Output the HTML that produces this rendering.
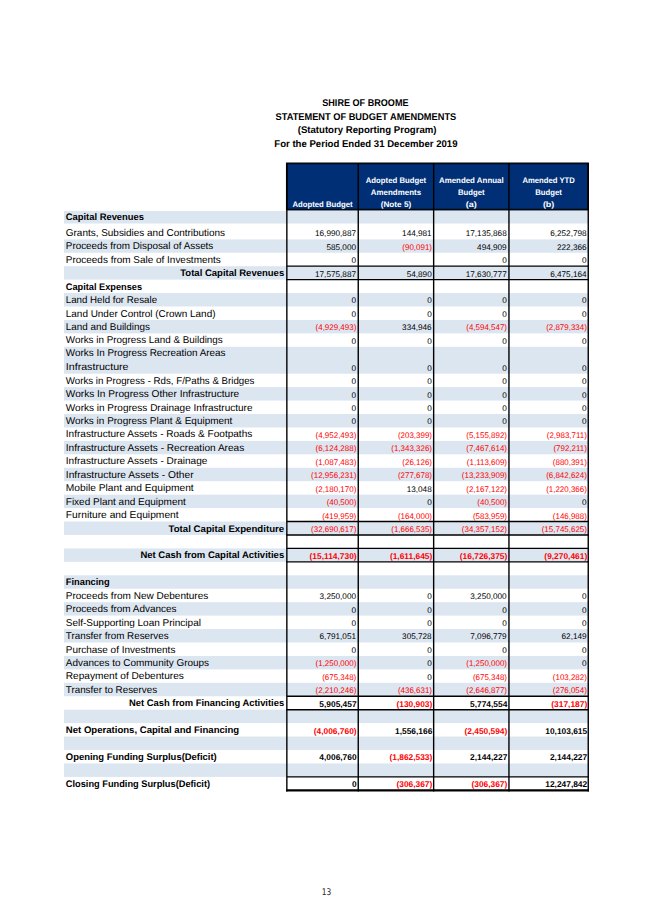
<!DOCTYPE html>
<html><head><meta charset="utf-8"><title>Shire of Broome - Statement of Budget Amendments</title>
<style>
html,body{margin:0;padding:0;background:#fff;}
body{width:653px;height:923px;overflow:hidden;}
svg{display:block;}
svg text{font-family:"Liberation Sans", Arial, sans-serif;text-rendering:geometricPrecision;}
svg text[font-family]{font-family:"DejaVu Sans", sans-serif;}
</style></head>
<body>
<svg width="653" height="923" viewBox="0 0 653 923">
<rect width="653" height="923" fill="#fff"/>
<rect x="64.0" y="210.90" width="524.25" height="12.60" fill="#dce6f1"/>
<rect x="64.0" y="239.40" width="524.25" height="13.33" fill="#dce6f1"/>
<rect x="64.0" y="266.17" width="524.25" height="13.44" fill="#dce6f1"/>
<rect x="64.0" y="293.05" width="524.25" height="13.44" fill="#dce6f1"/>
<rect x="64.0" y="319.93" width="524.25" height="13.44" fill="#dce6f1"/>
<rect x="64.0" y="346.81" width="524.25" height="26.88" fill="#dce6f1"/>
<rect x="64.0" y="387.13" width="524.25" height="13.44" fill="#dce6f1"/>
<rect x="64.0" y="414.01" width="524.25" height="13.44" fill="#dce6f1"/>
<rect x="64.0" y="440.89" width="524.25" height="13.44" fill="#dce6f1"/>
<rect x="64.0" y="467.77" width="524.25" height="13.44" fill="#dce6f1"/>
<rect x="64.0" y="494.65" width="524.25" height="13.44" fill="#dce6f1"/>
<rect x="64.0" y="521.53" width="524.25" height="13.44" fill="#dce6f1"/>
<rect x="64.0" y="548.41" width="524.25" height="13.44" fill="#dce6f1"/>
<rect x="64.0" y="575.29" width="524.25" height="13.44" fill="#dce6f1"/>
<rect x="64.0" y="602.17" width="524.25" height="13.44" fill="#dce6f1"/>
<rect x="64.0" y="629.05" width="524.25" height="13.44" fill="#dce6f1"/>
<rect x="64.0" y="655.93" width="524.25" height="13.44" fill="#dce6f1"/>
<rect x="64.0" y="682.81" width="524.25" height="13.44" fill="#dce6f1"/>
<rect x="64.0" y="709.69" width="524.25" height="13.44" fill="#dce6f1"/>
<rect x="64.0" y="736.57" width="524.25" height="13.44" fill="#dce6f1"/>
<rect x="64.0" y="763.45" width="524.25" height="13.44" fill="#dce6f1"/>
<rect x="286.85" y="163.4" width="301.25" height="46.20" fill="#012f76" stroke="#000814" stroke-width="1.8"/>
<line x1="286.85" y1="163.4" x2="286.85" y2="791.40" stroke="#000" stroke-width="1.4"/>
<line x1="358.25" y1="163.4" x2="358.25" y2="791.40" stroke="#000" stroke-width="1.4"/>
<line x1="433.65" y1="163.4" x2="433.65" y2="791.40" stroke="#000" stroke-width="1.4"/>
<line x1="508.95" y1="163.4" x2="508.95" y2="791.40" stroke="#000" stroke-width="1.4"/>
<line x1="588.25" y1="163.4" x2="588.25" y2="791.40" stroke="#000" stroke-width="1.4"/>
<line x1="286.85" y1="266.17" x2="588.25" y2="266.17" stroke="#000" stroke-width="1.4"/>
<line x1="286.15000000000003" y1="279.61" x2="588.95" y2="279.61" stroke="#000" stroke-width="1.4"/>
<line x1="286.85" y1="521.53" x2="588.25" y2="521.53" stroke="#000" stroke-width="1.4"/>
<line x1="286.15000000000003" y1="534.97" x2="588.95" y2="534.97" stroke="#000" stroke-width="1.4"/>
<line x1="286.85" y1="548.41" x2="588.25" y2="548.41" stroke="#000" stroke-width="1.4"/>
<line x1="286.15000000000003" y1="561.85" x2="588.95" y2="561.85" stroke="#000" stroke-width="1.4"/>
<line x1="286.85" y1="696.25" x2="588.25" y2="696.25" stroke="#000" stroke-width="1.4"/>
<line x1="286.15000000000003" y1="709.69" x2="588.95" y2="709.69" stroke="#000" stroke-width="1.4"/>
<line x1="286.85" y1="776.89" x2="588.25" y2="776.89" stroke="#000" stroke-width="1.4"/>
<line x1="286.15000000000003" y1="790.35" x2="588.95" y2="790.35" stroke="#000" stroke-width="2.3"/>
<text x="322.55" y="206.50" font-size="8.1" font-weight="bold" text-anchor="middle" textLength="60.199999999999996" lengthAdjust="spacingAndGlyphs" fill="#fff">Adopted Budget</text>
<text x="395.95" y="183.10" font-size="8.1" font-weight="bold" text-anchor="middle" textLength="60.4" lengthAdjust="spacingAndGlyphs" fill="#fff">Adopted Budget</text>
<text x="395.95" y="194.80" font-size="8.1" font-weight="bold" text-anchor="middle" textLength="50.199999999999996" lengthAdjust="spacingAndGlyphs" fill="#fff">Amendments</text>
<text x="395.95" y="206.50" font-size="8.1" font-weight="bold" text-anchor="middle" textLength="30.4" lengthAdjust="spacingAndGlyphs" fill="#fff">(Note 5)</text>
<text x="471.30" y="183.10" font-size="8.1" font-weight="bold" text-anchor="middle" textLength="64.7" lengthAdjust="spacingAndGlyphs" fill="#fff">Amended Annual</text>
<text x="471.30" y="194.80" font-size="8.1" font-weight="bold" text-anchor="middle" textLength="26.599999999999998" lengthAdjust="spacingAndGlyphs" fill="#fff">Budget</text>
<text x="471.30" y="206.50" font-size="8.1" font-weight="bold" text-anchor="middle" textLength="11.1" lengthAdjust="spacingAndGlyphs" fill="#fff">(a)</text>
<text x="548.60" y="183.10" font-size="8.1" font-weight="bold" text-anchor="middle" textLength="52.4" lengthAdjust="spacingAndGlyphs" fill="#fff">Amended YTD</text>
<text x="548.60" y="194.80" font-size="8.1" font-weight="bold" text-anchor="middle" textLength="26.599999999999998" lengthAdjust="spacingAndGlyphs" fill="#fff">Budget</text>
<text x="548.60" y="206.50" font-size="8.1" font-weight="bold" text-anchor="middle" textLength="11.4" lengthAdjust="spacingAndGlyphs" fill="#fff">(b)</text>
<text x="65.80" y="220.10" font-size="9.5" font-weight="bold" textLength="78.18" lengthAdjust="spacingAndGlyphs" fill="#000">Capital Revenues</text>
<text x="65.80" y="236.00" font-size="9.95" textLength="159.29" lengthAdjust="spacingAndGlyphs" fill="#000">Grants, Subsidies and Contributions</text>
<text x="356.00" y="236.40" font-size="8.2" text-anchor="end" fill="#000">16,990,887</text>
<text x="431.70" y="236.40" font-size="8.2" text-anchor="end" fill="#000">144,981</text>
<text x="506.70" y="236.40" font-size="8.2" text-anchor="end" fill="#000">17,135,868</text>
<text x="586.60" y="236.40" font-size="8.2" text-anchor="end" fill="#000">6,252,798</text>
<text x="65.80" y="249.33" font-size="9.95" textLength="147.5" lengthAdjust="spacingAndGlyphs" fill="#000">Proceeds from Disposal of Assets</text>
<text x="356.00" y="249.73" font-size="8.2" text-anchor="end" fill="#000">585,000</text>
<text x="432.00" y="249.73" font-size="8.2" text-anchor="end" textLength="29.67" lengthAdjust="spacingAndGlyphs" fill="#ff0000">(90,091)</text>
<text x="506.70" y="249.73" font-size="8.2" text-anchor="end" fill="#000">494,909</text>
<text x="586.60" y="249.73" font-size="8.2" text-anchor="end" fill="#000">222,366</text>
<text x="65.80" y="262.77" font-size="9.95" textLength="154.96" lengthAdjust="spacingAndGlyphs" fill="#000">Proceeds from Sale of Investments</text>
<text x="356.00" y="263.17" font-size="8.2" text-anchor="end" fill="#000">0</text>
<text x="506.70" y="263.17" font-size="8.2" text-anchor="end" fill="#000">0</text>
<text x="586.60" y="263.17" font-size="8.2" text-anchor="end" fill="#000">0</text>
<text x="284.20" y="276.21" font-size="9.5" font-weight="bold" text-anchor="end" textLength="103.92" lengthAdjust="spacingAndGlyphs" fill="#000">Total Capital Revenues</text>
<text x="356.00" y="276.61" font-size="8.2" text-anchor="end" fill="#000">17,575,887</text>
<text x="431.70" y="276.61" font-size="8.2" text-anchor="end" fill="#000">54,890</text>
<text x="506.70" y="276.61" font-size="8.2" text-anchor="end" fill="#000">17,630,777</text>
<text x="586.60" y="276.61" font-size="8.2" text-anchor="end" fill="#000">6,475,164</text>
<text x="65.80" y="289.65" font-size="9.5" font-weight="bold" textLength="76.32" lengthAdjust="spacingAndGlyphs" fill="#000">Capital Expenses</text>
<text x="65.80" y="303.09" font-size="9.95" textLength="91.23" lengthAdjust="spacingAndGlyphs" fill="#000">Land Held for Resale</text>
<text x="356.00" y="303.49" font-size="8.2" text-anchor="end" fill="#000">0</text>
<text x="431.70" y="303.49" font-size="8.2" text-anchor="end" fill="#000">0</text>
<text x="506.70" y="303.49" font-size="8.2" text-anchor="end" fill="#000">0</text>
<text x="586.60" y="303.49" font-size="8.2" text-anchor="end" fill="#000">0</text>
<text x="65.80" y="316.53" font-size="9.95" textLength="149.69" lengthAdjust="spacingAndGlyphs" fill="#000">Land Under Control (Crown Land)</text>
<text x="356.00" y="316.93" font-size="8.2" text-anchor="end" fill="#000">0</text>
<text x="431.70" y="316.93" font-size="8.2" text-anchor="end" fill="#000">0</text>
<text x="506.70" y="316.93" font-size="8.2" text-anchor="end" fill="#000">0</text>
<text x="586.60" y="316.93" font-size="8.2" text-anchor="end" fill="#000">0</text>
<text x="65.80" y="329.97" font-size="9.95" textLength="84.13" lengthAdjust="spacingAndGlyphs" fill="#000">Land and Buildings</text>
<text x="356.30" y="330.37" font-size="8.2" text-anchor="end" textLength="40.75" lengthAdjust="spacingAndGlyphs" fill="#ff0000">(4,929,493)</text>
<text x="431.70" y="330.37" font-size="8.2" text-anchor="end" fill="#000">334,946</text>
<text x="507.00" y="330.37" font-size="8.2" text-anchor="end" textLength="40.75" lengthAdjust="spacingAndGlyphs" fill="#ff0000">(4,594,547)</text>
<text x="586.90" y="330.37" font-size="8.2" text-anchor="end" textLength="40.75" lengthAdjust="spacingAndGlyphs" fill="#ff0000">(2,879,334)</text>
<text x="65.80" y="343.41" font-size="9.95" textLength="156.93" lengthAdjust="spacingAndGlyphs" fill="#000">Works in Progress Land &amp; Buildings</text>
<text x="356.00" y="343.81" font-size="8.2" text-anchor="end" fill="#000">0</text>
<text x="431.70" y="343.81" font-size="8.2" text-anchor="end" fill="#000">0</text>
<text x="506.70" y="343.81" font-size="8.2" text-anchor="end" fill="#000">0</text>
<text x="586.60" y="343.81" font-size="8.2" text-anchor="end" fill="#000">0</text>
<text x="65.80" y="355.70" font-size="9.95" textLength="159.77" lengthAdjust="spacingAndGlyphs" fill="#000">Works In Progress Recreation Areas</text>
<text x="65.80" y="370.40" font-size="9.95" textLength="62.72" lengthAdjust="spacingAndGlyphs" fill="#000">Infrastructure</text>
<text x="356.00" y="370.69" font-size="8.2" text-anchor="end" fill="#000">0</text>
<text x="431.70" y="370.69" font-size="8.2" text-anchor="end" fill="#000">0</text>
<text x="506.70" y="370.69" font-size="8.2" text-anchor="end" fill="#000">0</text>
<text x="586.60" y="370.69" font-size="8.2" text-anchor="end" fill="#000">0</text>
<text x="65.80" y="383.73" font-size="9.95" textLength="188.68" lengthAdjust="spacingAndGlyphs" fill="#000">Works in Progress - Rds, F/Paths &amp; Bridges</text>
<text x="356.00" y="384.13" font-size="8.2" text-anchor="end" fill="#000">0</text>
<text x="431.70" y="384.13" font-size="8.2" text-anchor="end" fill="#000">0</text>
<text x="506.70" y="384.13" font-size="8.2" text-anchor="end" fill="#000">0</text>
<text x="586.60" y="384.13" font-size="8.2" text-anchor="end" fill="#000">0</text>
<text x="65.80" y="397.17" font-size="9.95" textLength="173.39" lengthAdjust="spacingAndGlyphs" fill="#000">Works In Progress Other Infrastructure</text>
<text x="356.00" y="397.57" font-size="8.2" text-anchor="end" fill="#000">0</text>
<text x="431.70" y="397.57" font-size="8.2" text-anchor="end" fill="#000">0</text>
<text x="506.70" y="397.57" font-size="8.2" text-anchor="end" fill="#000">0</text>
<text x="586.60" y="397.57" font-size="8.2" text-anchor="end" fill="#000">0</text>
<text x="65.80" y="410.61" font-size="9.95" textLength="186.7" lengthAdjust="spacingAndGlyphs" fill="#000">Works in Progress Drainage Infrastructure</text>
<text x="356.00" y="411.01" font-size="8.2" text-anchor="end" fill="#000">0</text>
<text x="431.70" y="411.01" font-size="8.2" text-anchor="end" fill="#000">0</text>
<text x="506.70" y="411.01" font-size="8.2" text-anchor="end" fill="#000">0</text>
<text x="586.60" y="411.01" font-size="8.2" text-anchor="end" fill="#000">0</text>
<text x="65.80" y="424.05" font-size="9.95" textLength="166.57" lengthAdjust="spacingAndGlyphs" fill="#000">Works in Progress Plant &amp; Equipment</text>
<text x="356.00" y="424.45" font-size="8.2" text-anchor="end" fill="#000">0</text>
<text x="431.70" y="424.45" font-size="8.2" text-anchor="end" fill="#000">0</text>
<text x="506.70" y="424.45" font-size="8.2" text-anchor="end" fill="#000">0</text>
<text x="586.60" y="424.45" font-size="8.2" text-anchor="end" fill="#000">0</text>
<text x="65.80" y="437.49" font-size="9.95" textLength="186.45" lengthAdjust="spacingAndGlyphs" fill="#000">Infrastructure Assets - Roads &amp; Footpaths</text>
<text x="356.30" y="437.89" font-size="8.2" text-anchor="end" textLength="40.75" lengthAdjust="spacingAndGlyphs" fill="#ff0000">(4,952,493)</text>
<text x="432.00" y="437.89" font-size="8.2" text-anchor="end" textLength="34.1" lengthAdjust="spacingAndGlyphs" fill="#ff0000">(203,399)</text>
<text x="507.00" y="437.89" font-size="8.2" text-anchor="end" textLength="40.75" lengthAdjust="spacingAndGlyphs" fill="#ff0000">(5,155,892)</text>
<text x="586.90" y="437.89" font-size="8.2" text-anchor="end" textLength="40.15" lengthAdjust="spacingAndGlyphs" fill="#ff0000">(2,983,711)</text>
<text x="65.80" y="450.93" font-size="9.95" textLength="178.47" lengthAdjust="spacingAndGlyphs" fill="#000">Infrastructure Assets - Recreation Areas</text>
<text x="356.30" y="451.33" font-size="8.2" text-anchor="end" textLength="40.75" lengthAdjust="spacingAndGlyphs" fill="#ff0000">(6,124,288)</text>
<text x="432.00" y="451.33" font-size="8.2" text-anchor="end" textLength="40.75" lengthAdjust="spacingAndGlyphs" fill="#ff0000">(1,343,326)</text>
<text x="507.00" y="451.33" font-size="8.2" text-anchor="end" textLength="40.75" lengthAdjust="spacingAndGlyphs" fill="#ff0000">(7,467,614)</text>
<text x="586.90" y="451.33" font-size="8.2" text-anchor="end" textLength="33.51" lengthAdjust="spacingAndGlyphs" fill="#ff0000">(792,211)</text>
<text x="65.80" y="464.37" font-size="9.95" textLength="141.62" lengthAdjust="spacingAndGlyphs" fill="#000">Infrastructure Assets - Drainage</text>
<text x="356.30" y="464.77" font-size="8.2" text-anchor="end" textLength="40.75" lengthAdjust="spacingAndGlyphs" fill="#ff0000">(1,087,483)</text>
<text x="432.00" y="464.77" font-size="8.2" text-anchor="end" textLength="29.67" lengthAdjust="spacingAndGlyphs" fill="#ff0000">(26,126)</text>
<text x="507.00" y="464.77" font-size="8.2" text-anchor="end" textLength="40.15" lengthAdjust="spacingAndGlyphs" fill="#ff0000">(1,113,609)</text>
<text x="586.90" y="464.77" font-size="8.2" text-anchor="end" textLength="34.1" lengthAdjust="spacingAndGlyphs" fill="#ff0000">(880,391)</text>
<text x="65.80" y="477.81" font-size="9.95" textLength="127.78" lengthAdjust="spacingAndGlyphs" fill="#000">Infrastructure Assets - Other</text>
<text x="356.30" y="478.21" font-size="8.2" text-anchor="end" textLength="45.18" lengthAdjust="spacingAndGlyphs" fill="#ff0000">(12,956,231)</text>
<text x="432.00" y="478.21" font-size="8.2" text-anchor="end" textLength="34.1" lengthAdjust="spacingAndGlyphs" fill="#ff0000">(277,678)</text>
<text x="507.00" y="478.21" font-size="8.2" text-anchor="end" textLength="45.18" lengthAdjust="spacingAndGlyphs" fill="#ff0000">(13,233,909)</text>
<text x="586.90" y="478.21" font-size="8.2" text-anchor="end" textLength="40.75" lengthAdjust="spacingAndGlyphs" fill="#ff0000">(6,842,624)</text>
<text x="65.80" y="491.25" font-size="9.95" textLength="127.86" lengthAdjust="spacingAndGlyphs" fill="#000">Mobile Plant and Equipment</text>
<text x="356.30" y="491.65" font-size="8.2" text-anchor="end" textLength="40.75" lengthAdjust="spacingAndGlyphs" fill="#ff0000">(2,180,170)</text>
<text x="431.70" y="491.65" font-size="8.2" text-anchor="end" fill="#000">13,048</text>
<text x="507.00" y="491.65" font-size="8.2" text-anchor="end" textLength="40.75" lengthAdjust="spacingAndGlyphs" fill="#ff0000">(2,167,122)</text>
<text x="586.90" y="491.65" font-size="8.2" text-anchor="end" textLength="40.75" lengthAdjust="spacingAndGlyphs" fill="#ff0000">(1,220,366)</text>
<text x="65.80" y="504.69" font-size="9.95" textLength="120.03" lengthAdjust="spacingAndGlyphs" fill="#000">Fixed Plant and Equipment</text>
<text x="356.30" y="505.09" font-size="8.2" text-anchor="end" textLength="29.67" lengthAdjust="spacingAndGlyphs" fill="#ff0000">(40,500)</text>
<text x="431.70" y="505.09" font-size="8.2" text-anchor="end" fill="#000">0</text>
<text x="507.00" y="505.09" font-size="8.2" text-anchor="end" textLength="29.67" lengthAdjust="spacingAndGlyphs" fill="#ff0000">(40,500)</text>
<text x="586.60" y="505.09" font-size="8.2" text-anchor="end" fill="#000">0</text>
<text x="65.80" y="518.13" font-size="9.95" textLength="112.85" lengthAdjust="spacingAndGlyphs" fill="#000">Furniture and Equipment</text>
<text x="356.30" y="518.53" font-size="8.2" text-anchor="end" textLength="34.1" lengthAdjust="spacingAndGlyphs" fill="#ff0000">(419,959)</text>
<text x="432.00" y="518.53" font-size="8.2" text-anchor="end" textLength="34.1" lengthAdjust="spacingAndGlyphs" fill="#ff0000">(164,000)</text>
<text x="507.00" y="518.53" font-size="8.2" text-anchor="end" textLength="34.1" lengthAdjust="spacingAndGlyphs" fill="#ff0000">(583,959)</text>
<text x="586.90" y="518.53" font-size="8.2" text-anchor="end" textLength="34.1" lengthAdjust="spacingAndGlyphs" fill="#ff0000">(146,988)</text>
<text x="284.20" y="531.57" font-size="9.5" font-weight="bold" text-anchor="end" textLength="115.67" lengthAdjust="spacingAndGlyphs" fill="#000">Total Capital Expenditure</text>
<text x="356.30" y="531.97" font-size="8.2" text-anchor="end" textLength="45.18" lengthAdjust="spacingAndGlyphs" fill="#ff0000">(32,690,617)</text>
<text x="432.00" y="531.97" font-size="8.2" text-anchor="end" textLength="40.75" lengthAdjust="spacingAndGlyphs" fill="#ff0000">(1,666,535)</text>
<text x="507.00" y="531.97" font-size="8.2" text-anchor="end" textLength="45.18" lengthAdjust="spacingAndGlyphs" fill="#ff0000">(34,357,152)</text>
<text x="586.90" y="531.97" font-size="8.2" text-anchor="end" textLength="45.18" lengthAdjust="spacingAndGlyphs" fill="#ff0000">(15,745,625)</text>
<text x="284.20" y="558.45" font-size="9.5" font-weight="bold" text-anchor="end" textLength="143.81" lengthAdjust="spacingAndGlyphs" fill="#000">Net Cash from Capital Activities</text>
<text x="356.60" y="558.85" font-size="8.4" font-weight="bold" text-anchor="end" fill="#ff0000">(15,114,730)</text>
<text x="432.30" y="558.85" font-size="8.4" font-weight="bold" text-anchor="end" fill="#ff0000">(1,611,645)</text>
<text x="507.30" y="558.85" font-size="8.4" font-weight="bold" text-anchor="end" fill="#ff0000">(16,726,375)</text>
<text x="587.20" y="558.85" font-size="8.4" font-weight="bold" text-anchor="end" fill="#ff0000">(9,270,461)</text>
<text x="65.80" y="585.33" font-size="9.5" font-weight="bold" textLength="43.92" lengthAdjust="spacingAndGlyphs" fill="#000">Financing</text>
<text x="65.80" y="598.77" font-size="9.95" textLength="142.41" lengthAdjust="spacingAndGlyphs" fill="#000">Proceeds from New Debentures</text>
<text x="356.00" y="599.17" font-size="8.2" text-anchor="end" fill="#000">3,250,000</text>
<text x="431.70" y="599.17" font-size="8.2" text-anchor="end" fill="#000">0</text>
<text x="506.70" y="599.17" font-size="8.2" text-anchor="end" fill="#000">3,250,000</text>
<text x="586.60" y="599.17" font-size="8.2" text-anchor="end" fill="#000">0</text>
<text x="65.80" y="612.21" font-size="9.95" textLength="110.82" lengthAdjust="spacingAndGlyphs" fill="#000">Proceeds from Advances</text>
<text x="356.00" y="612.61" font-size="8.2" text-anchor="end" fill="#000">0</text>
<text x="431.70" y="612.61" font-size="8.2" text-anchor="end" fill="#000">0</text>
<text x="506.70" y="612.61" font-size="8.2" text-anchor="end" fill="#000">0</text>
<text x="586.60" y="612.61" font-size="8.2" text-anchor="end" fill="#000">0</text>
<text x="65.80" y="625.65" font-size="9.95" textLength="135.16" lengthAdjust="spacingAndGlyphs" fill="#000">Self-Supporting Loan Principal</text>
<text x="356.00" y="626.05" font-size="8.2" text-anchor="end" fill="#000">0</text>
<text x="431.70" y="626.05" font-size="8.2" text-anchor="end" fill="#000">0</text>
<text x="506.70" y="626.05" font-size="8.2" text-anchor="end" fill="#000">0</text>
<text x="586.60" y="626.05" font-size="8.2" text-anchor="end" fill="#000">0</text>
<text x="65.80" y="639.09" font-size="9.95" textLength="102.79" lengthAdjust="spacingAndGlyphs" fill="#000">Transfer from Reserves</text>
<text x="356.00" y="639.49" font-size="8.2" text-anchor="end" fill="#000">6,791,051</text>
<text x="431.70" y="639.49" font-size="8.2" text-anchor="end" fill="#000">305,728</text>
<text x="506.70" y="639.49" font-size="8.2" text-anchor="end" fill="#000">7,096,779</text>
<text x="586.60" y="639.49" font-size="8.2" text-anchor="end" fill="#000">62,149</text>
<text x="65.80" y="652.53" font-size="9.95" textLength="109.57" lengthAdjust="spacingAndGlyphs" fill="#000">Purchase of Investments</text>
<text x="356.00" y="652.93" font-size="8.2" text-anchor="end" fill="#000">0</text>
<text x="431.70" y="652.93" font-size="8.2" text-anchor="end" fill="#000">0</text>
<text x="506.70" y="652.93" font-size="8.2" text-anchor="end" fill="#000">0</text>
<text x="586.60" y="652.93" font-size="8.2" text-anchor="end" fill="#000">0</text>
<text x="65.80" y="665.97" font-size="9.95" textLength="143.25" lengthAdjust="spacingAndGlyphs" fill="#000">Advances to Community Groups</text>
<text x="356.30" y="666.37" font-size="8.2" text-anchor="end" textLength="40.75" lengthAdjust="spacingAndGlyphs" fill="#ff0000">(1,250,000)</text>
<text x="431.70" y="666.37" font-size="8.2" text-anchor="end" fill="#000">0</text>
<text x="507.00" y="666.37" font-size="8.2" text-anchor="end" textLength="40.75" lengthAdjust="spacingAndGlyphs" fill="#ff0000">(1,250,000)</text>
<text x="586.60" y="666.37" font-size="8.2" text-anchor="end" fill="#000">0</text>
<text x="65.80" y="679.41" font-size="9.95" textLength="118.06" lengthAdjust="spacingAndGlyphs" fill="#000">Repayment of Debentures</text>
<text x="356.30" y="679.81" font-size="8.2" text-anchor="end" textLength="34.1" lengthAdjust="spacingAndGlyphs" fill="#ff0000">(675,348)</text>
<text x="431.70" y="679.81" font-size="8.2" text-anchor="end" fill="#000">0</text>
<text x="507.00" y="679.81" font-size="8.2" text-anchor="end" textLength="34.1" lengthAdjust="spacingAndGlyphs" fill="#ff0000">(675,348)</text>
<text x="586.90" y="679.81" font-size="8.2" text-anchor="end" textLength="34.1" lengthAdjust="spacingAndGlyphs" fill="#ff0000">(103,282)</text>
<text x="65.80" y="692.85" font-size="9.95" textLength="91.29" lengthAdjust="spacingAndGlyphs" fill="#000">Transfer to Reserves</text>
<text x="356.30" y="693.25" font-size="8.2" text-anchor="end" textLength="40.75" lengthAdjust="spacingAndGlyphs" fill="#ff0000">(2,210,246)</text>
<text x="432.00" y="693.25" font-size="8.2" text-anchor="end" textLength="34.1" lengthAdjust="spacingAndGlyphs" fill="#ff0000">(436,631)</text>
<text x="507.00" y="693.25" font-size="8.2" text-anchor="end" textLength="40.75" lengthAdjust="spacingAndGlyphs" fill="#ff0000">(2,646,877)</text>
<text x="586.90" y="693.25" font-size="8.2" text-anchor="end" textLength="34.1" lengthAdjust="spacingAndGlyphs" fill="#ff0000">(276,054)</text>
<text x="284.20" y="706.29" font-size="9.5" font-weight="bold" text-anchor="end" textLength="155.28" lengthAdjust="spacingAndGlyphs" fill="#000">Net Cash from Financing Activities</text>
<text x="356.60" y="706.69" font-size="8.4" font-weight="bold" text-anchor="end" fill="#000">5,905,457</text>
<text x="432.30" y="706.69" font-size="8.4" font-weight="bold" text-anchor="end" fill="#ff0000">(130,903)</text>
<text x="507.30" y="706.69" font-size="8.4" font-weight="bold" text-anchor="end" fill="#000">5,774,554</text>
<text x="587.20" y="706.69" font-size="8.4" font-weight="bold" text-anchor="end" fill="#ff0000">(317,187)</text>
<text x="65.80" y="733.17" font-size="9.5" font-weight="bold" textLength="173.39" lengthAdjust="spacingAndGlyphs" fill="#000">Net Operations, Capital and Financing</text>
<text x="356.60" y="733.57" font-size="8.4" font-weight="bold" text-anchor="end" fill="#ff0000">(4,006,760)</text>
<text x="432.30" y="733.57" font-size="8.4" font-weight="bold" text-anchor="end" fill="#000">1,556,166</text>
<text x="507.30" y="733.57" font-size="8.4" font-weight="bold" text-anchor="end" fill="#ff0000">(2,450,594)</text>
<text x="587.20" y="733.57" font-size="8.4" font-weight="bold" text-anchor="end" fill="#000">10,103,615</text>
<text x="65.80" y="760.05" font-size="9.5" font-weight="bold" textLength="150.97" lengthAdjust="spacingAndGlyphs" fill="#000">Opening Funding Surplus(Deficit)</text>
<text x="356.60" y="760.45" font-size="8.4" font-weight="bold" text-anchor="end" fill="#000">4,006,760</text>
<text x="432.30" y="760.45" font-size="8.4" font-weight="bold" text-anchor="end" fill="#ff0000">(1,862,533)</text>
<text x="507.30" y="760.45" font-size="8.4" font-weight="bold" text-anchor="end" fill="#000">2,144,227</text>
<text x="587.20" y="760.45" font-size="8.4" font-weight="bold" text-anchor="end" fill="#000">2,144,227</text>
<text x="65.80" y="786.93" font-size="9.5" font-weight="bold" textLength="144.26" lengthAdjust="spacingAndGlyphs" fill="#000">Closing Funding Surplus(Deficit)</text>
<text x="356.60" y="787.33" font-size="8.4" font-weight="bold" text-anchor="end" fill="#000">0</text>
<text x="432.30" y="787.33" font-size="8.4" font-weight="bold" text-anchor="end" fill="#ff0000">(306,367)</text>
<text x="507.30" y="787.33" font-size="8.4" font-weight="bold" text-anchor="end" fill="#ff0000">(306,367)</text>
<text x="587.20" y="787.33" font-size="8.4" font-weight="bold" text-anchor="end" fill="#000">12,247,842</text>
<text x="365.40" y="106.30" font-size="9.8" font-weight="bold" text-anchor="middle" textLength="86.3" lengthAdjust="spacingAndGlyphs" fill="#000">SHIRE OF BROOME</text>
<text x="365.90" y="119.80" font-size="9.8" font-weight="bold" text-anchor="middle" textLength="180.7" lengthAdjust="spacingAndGlyphs" fill="#000">STATEMENT OF BUDGET AMENDMENTS</text>
<text x="367.10" y="132.90" font-size="9.8" font-weight="bold" text-anchor="middle" textLength="138.8" lengthAdjust="spacingAndGlyphs" fill="#000">(Statutory Reporting Program)</text>
<text x="365.90" y="146.60" font-size="9.8" font-weight="bold" text-anchor="middle" textLength="183.2" lengthAdjust="spacingAndGlyphs" fill="#000">For the Period Ended 31 December 2019</text>
<text x="326.45" y="895.40" font-size="9.2" text-anchor="middle" font-family="DejaVu Sans, sans-serif" textLength="9.5" lengthAdjust="spacingAndGlyphs" fill="#222">13</text>
</svg>
</body></html>
